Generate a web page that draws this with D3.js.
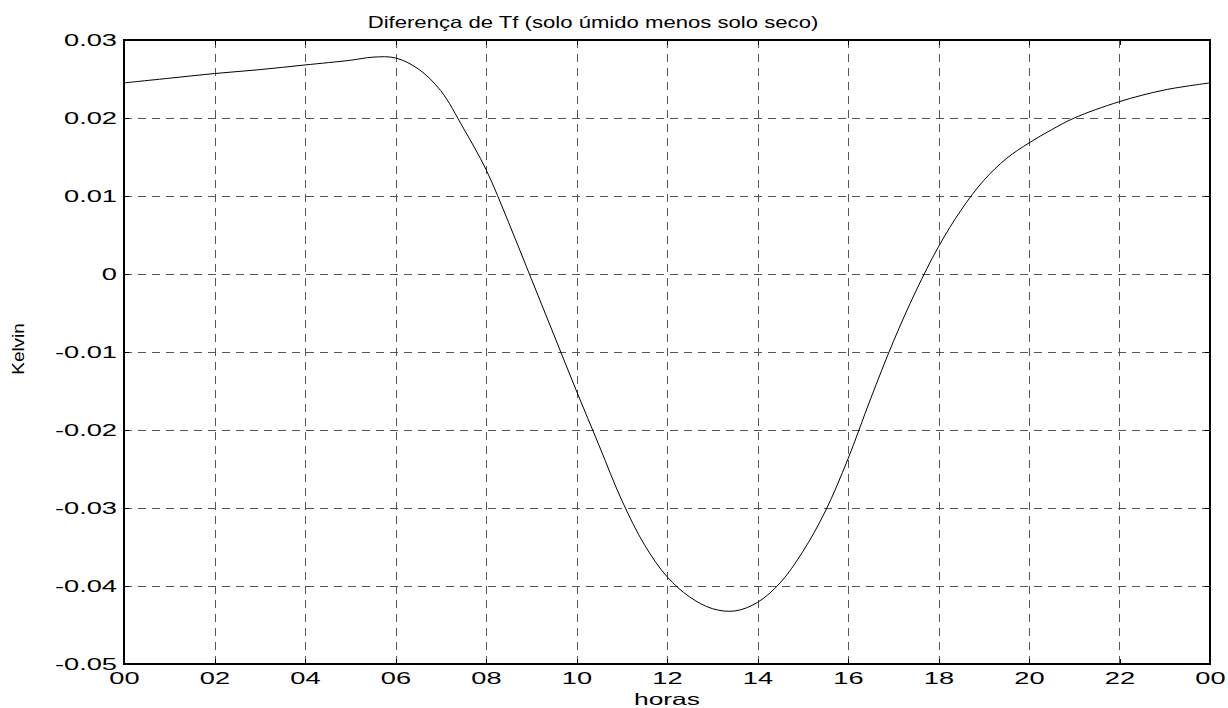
<!DOCTYPE html>
<html lang="pt">
<head>
<meta charset="utf-8">
<title>Diferença de Tf</title>
<script src="https://cdn.jsdelivr.net/npm/d3@7/dist/d3.min.js"></script>
<style>
  body { margin: 0; background: #fff; }
  svg { display: block; }
  text { font-family: "Liberation Sans", Arial, sans-serif; fill: #000; }
  .grid line { stroke: #555; stroke-width: 1; stroke-dasharray: 8,6; shape-rendering: crispEdges; }
  .axis path, .axis line { stroke: #000; stroke-width: 1; shape-rendering: crispEdges; }
  .frame { fill: none; stroke: #000; stroke-width: 1.3; shape-rendering: crispEdges; }
  .curve { fill: none; stroke: #000; stroke-width: 1; }
</style>
</head>
<body>
<script>
// horas do dia (0 = 00h, 24 = 00h do dia seguinte)
var hours = [0, 1, 2, 3, 4, 5, 5.5, 6, 6.5, 7, 7.5, 8, 8.5, 9, 9.5, 10, 10.5, 11, 11.5,
             12, 12.5, 13, 13.5, 14, 14.5, 15, 15.5, 16, 16.5, 17, 17.5, 18, 18.5, 19,
             19.5, 20, 20.5, 21, 22, 23, 24];
// diferença de Tf em Kelvin (solo úmido menos solo seco)
var diffTf = [0.0245, 0.0251, 0.0257, 0.0262, 0.0268, 0.0274, 0.0278, 0.0277, 0.0263, 0.0235,
              0.0187, 0.0134, 0.0066, -0.0006, -0.0078, -0.0150, -0.0220, -0.0290, -0.0347,
              -0.0388, -0.0414, -0.0429, -0.0432, -0.0421, -0.0396, -0.0356, -0.0304, -0.0237,
              -0.0160, -0.0087, -0.0022, 0.0035, 0.0082, 0.0120, 0.0148, 0.0168, 0.0185,
              0.0200, 0.0221, 0.0236, 0.0245];

var xTicks = [0, 2, 4, 6, 8, 10, 12, 14, 16, 18, 20, 22, 24];
var xTickLabels = ['00', '02', '04', '06', '08', '10', '12', '14', '16', '18', '20', '22', '00'];
var yTicks = [-0.05, -0.04, -0.03, -0.02, -0.01, 0, 0.01, 0.02, 0.03];
var yTickLabels = ['-0.05', '-0.04', '-0.03', '-0.02', '-0.01', '0', '0.01', '0.02', '0.03'];

var width = 1228, height = 708;
var plotL = 124, plotR = 1210, plotT = 40, plotB = 664;

var svg = d3.select('body').append('svg')
    .attr('width', width)
    .attr('height', height);

var x = d3.scaleLinear().domain([0, 24]).range([plotL, plotR]);
var y = d3.scaleLinear().domain([-0.05, 0.03]).range([plotB, plotT]);

// stretch text horizontally like the original figure
function stretch(sel, k) {
  sel.each(function() {
    var len = this.getComputedTextLength();
    d3.select(this).attr('textLength', len * k).attr('lengthAdjust', 'spacingAndGlyphs');
  });
}

// grid
var grid = svg.append('g').attr('class', 'grid');
grid.selectAll('.gx')
    .data(xTicks.slice(1, -1))
    .enter().append('line')
    .attr('x1', function(d) { return Math.round(x(d)) + 0.5; })
    .attr('x2', function(d) { return Math.round(x(d)) + 0.5; })
    .attr('y1', plotT)
    .attr('y2', plotB);
grid.selectAll('.gy')
    .data(yTicks.slice(1, -1))
    .enter().append('line')
    .attr('x1', plotL)
    .attr('x2', plotR)
    .attr('y1', function(d) { return Math.round(y(d)) + 0.5; })
    .attr('y2', function(d) { return Math.round(y(d)) + 0.5; });

// curve
var line = d3.line()
    .x(function(d, i) { return x(hours[i]); })
    .y(function(d) { return y(d); })
    .curve(d3.curveCatmullRom.alpha(0.5));

svg.append('path')
    .attr('class', 'curve')
    .attr('d', line(diffTf));

// axes with inward ticks
var xAxis = svg.append('g')
    .attr('class', 'axis')
    .attr('transform', 'translate(0,' + plotB + ')')
    .call(d3.axisBottom(x).tickValues(xTicks).tickSize(-5).tickPadding(8)
      .tickFormat(function(d, i) { return xTickLabels[i]; }));
svg.append('g')
    .attr('class', 'axis')
    .attr('transform', 'translate(0,' + plotT + ')')
    .call(d3.axisTop(x).tickValues(xTicks).tickSize(-5).tickFormat(''));
var yAxis = svg.append('g')
    .attr('class', 'axis')
    .attr('transform', 'translate(' + plotL + ',0)')
    .call(d3.axisLeft(y).tickValues(yTicks).tickSize(-5).tickPadding(7)
      .tickFormat(function(d, i) { return yTickLabels[i]; }));
svg.append('g')
    .attr('class', 'axis')
    .attr('transform', 'translate(' + plotR + ',0)')
    .call(d3.axisRight(y).tickValues(yTicks).tickSize(-5).tickFormat(''));

svg.selectAll('.axis .domain').remove();
svg.selectAll('.axis text')
    .style('font-family', '"Liberation Sans", Arial, sans-serif')
    .style('font-size', '16.5px')
    .attr('fill', '#000');
stretch(xAxis.selectAll('text'), 1.65);
stretch(yAxis.selectAll('text'), 1.65);

svg.append('rect')
    .attr('class', 'frame')
    .attr('x', plotL)
    .attr('y', plotT)
    .attr('width', plotR - plotL)
    .attr('height', plotB - plotT);

// title and labels
var title = svg.append('text')
    .attr('x', 593)
    .attr('y', 28)
    .attr('text-anchor', 'middle')
    .style('font-size', '16.5px')
    .text('Diferença de Tf (solo úmido menos solo seco)');
stretch(title, 1.34);

var xlab = svg.append('text')
    .attr('x', (plotL + plotR) / 2)
    .attr('y', 705)
    .attr('text-anchor', 'middle')
    .style('font-size', '16.5px')
    .text('horas');
stretch(xlab, 1.6);

var ylab = svg.append('text')
    .attr('transform', 'translate(24,349) rotate(-90)')
    .attr('text-anchor', 'middle')
    .style('font-size', '16px')
    .text('Kelvin');
stretch(ylab, 1.18);
</script>
</body>
</html>
